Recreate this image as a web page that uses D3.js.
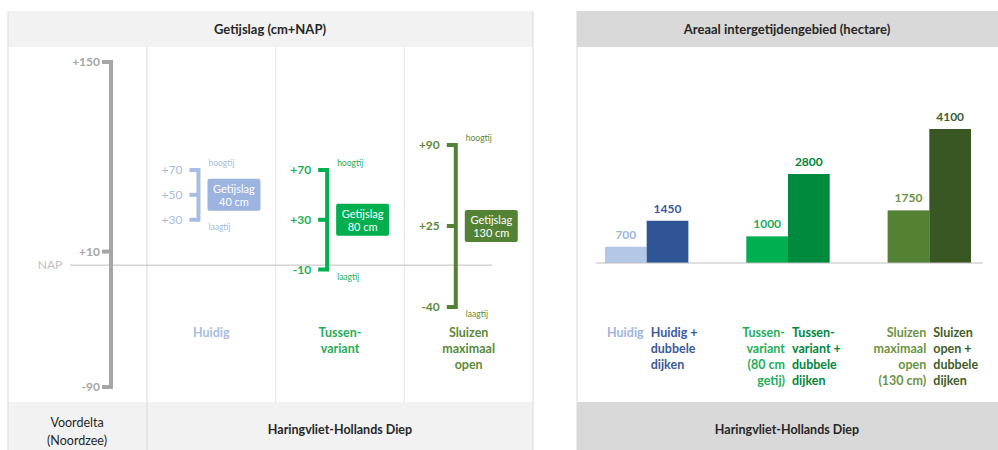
<!DOCTYPE html>
<html>
<head>
<meta charset="utf-8">
<script src="https://cdn.jsdelivr.net/npm/d3@7"></script>
<style>
  body { margin: 0; background: #fff; }
  svg { display: block; font-family: Lato, "Open Sans", sans-serif; }
</style>
</head>
<body>
<svg id="chart" width="998" height="450"></svg>
<script>
// Left panel data: tide levels (cm + NAP)
const axisTicks = [150, 10, -90];
const variants = ["Huidig", "Tussenvariant", "Sluizen maximaal open"];
const variantLines = [["Huidig"], ["Tussen-", "variant"], ["Sluizen", "maximaal", "open"]];
const highTide = [70, 70, 90];
const midTide = [50, 30, 25];
const lowTide = [30, -10, -40];
const tidalRange = [40, 80, 130];

// Right panel data: intertidal area (hectare)
const groups = ["Huidig", "Tussenvariant", "Sluizen"];
const areaBase = [700, 1000, 1750];
const areaDikes = [1450, 2800, 4100];
const baseLabels = [["Huidig"], ["Tussen-", "variant", "(80 cm", "getij)"], ["Sluizen", "maximaal", "open", "(130 cm)"]];
const dikeLabels = [["Huidig +", "dubbele", "dijken"], ["Tussen-", "variant +", "dubbele", "dijken"], ["Sluizen", "open +", "dubbele", "dijken"]];

// Colours per variant
const leftColors = ["#a9bde0", "#00b050", "#548235"];
const textColors = ["#a9bcdc", "#1fae5a", "#5b8a3a"];
const baseColors = ["#b4c7e7", "#00b050", "#548235"];
const dikeColors = ["#2f5597", "#008a3e", "#385723"];
const baseText = ["#9fb4dc", "#1fae5a", "#6b9343"];
const dikeText = ["#3a5a9a", "#00873a", "#3e5e28"];

const svg = d3.select("#chart");
const lineCol = "#d9d9d9";

// ---------- Left panel ----------
svg.append("rect").attr("x", 8).attr("y", 11).attr("width", 525).attr("height", 36).attr("fill", "#f2f2f2");
svg.append("rect").attr("x", 8).attr("y", 402).attr("width", 525).attr("height", 48).attr("fill", "#f2f2f2");
svg.append("text").attr("x", 270).attr("y", 34).attr("text-anchor", "middle")
    .attr("font-size", 13).attr("font-weight", "bold").attr("fill", "#262626").text("Getijslag (cm+NAP)");

// Panel borders
[[8, 11, 8, 450], [533, 11, 533, 450], [147, 47, 147, 450]].forEach(l => {
    svg.append("line").attr("x1", l[0]).attr("y1", l[1]).attr("x2", l[2]).attr("y2", l[3])
        .attr("stroke", lineCol).attr("stroke-width", 1);
});

const col = d3.scaleBand().domain(variants).range([147, 533]).paddingInner(0);
variants.slice(1).forEach(v => {
    svg.append("line").attr("x1", col(v)).attr("x2", col(v)).attr("y1", 47).attr("y2", 402)
        .attr("stroke", "#e3e3e3");
});

// Main scale (left axis) and a schematic scale for the brackets
const y = d3.scaleLinear().domain([150, -90]).range([62, 387]);
const yBr = d3.scaleLinear().domain([90, -40]).range([145, 307]);

// NAP line
svg.append("line").attr("x1", 70).attr("x2", 492).attr("y1", y(0)).attr("y2", y(0))
    .attr("stroke", "#bfbfbf").attr("stroke-width", 1);
svg.append("text").attr("x", 50).attr("y", y(0) + 4).attr("text-anchor", "middle")
    .attr("font-size", 12).attr("fill", "#bfbfbf").text("NAP");

// Left axis bracket
const axX = 111;
svg.append("path")
    .attr("d", `M${axX - 9},${y(150)}H${axX}V${y(-90)}H${axX - 9}`)
    .attr("fill", "none").attr("stroke", "#a6a6a6").attr("stroke-width", 4);
axisTicks.forEach(t => {
    svg.append("line").attr("x1", axX - 9).attr("x2", axX).attr("y1", y(t)).attr("y2", y(t))
        .attr("stroke", "#a6a6a6").attr("stroke-width", 4);
    svg.append("text").attr("x", axX - 11).attr("y", y(t) + 4).attr("text-anchor", "end")
        .attr("font-size", 12).attr("font-weight", "bold").attr("fill", "#a6a6a6")
        .text(t > 0 ? "+" + t : t);
});

// Variant brackets
variants.forEach((v, i) => {
    const bx = col(v) + col.bandwidth() * 0.4;
    const c = leftColors[i];
    const g = svg.append("g");
    g.append("path")
        .attr("d", `M${bx - 9},${yBr(highTide[i])}H${bx}V${yBr(lowTide[i])}H${bx - 9}`)
        .attr("fill", "none").attr("stroke", c).attr("stroke-width", 4);
    g.append("line").attr("x1", bx - 9).attr("x2", bx).attr("y1", yBr(midTide[i])).attr("y2", yBr(midTide[i]))
        .attr("stroke", c).attr("stroke-width", 4);
    [highTide[i], midTide[i], lowTide[i]].forEach(t => {
        g.append("text").attr("x", bx - 16).attr("y", yBr(t) + 4).attr("text-anchor", "end")
            .attr("font-size", 12).attr("font-weight", i === 0 ? "normal" : "bold")
            .attr("fill", i === 0 ? "#a9bcdc" : textColors[i])
            .text(t > 0 ? "+" + t : t);
    });
    g.append("text").attr("x", bx + 10).attr("y", yBr(highTide[i]) - 4)
        .attr("font-size", 8.5).attr("fill", textColors[i]).text("hoogtij");
    g.append("text").attr("x", bx + 10).attr("y", yBr(lowTide[i]) + 10)
        .attr("font-size", 8.5).attr("fill", textColors[i]).text("laagtij");
    // label box
    const my = yBr(midTide[i]);
    g.append("rect").attr("x", bx + 9).attr("y", my - 16).attr("width", 53).attr("height", 32)
        .attr("rx", 2).attr("fill", i === 0 ? "#9db3e0" : c);
    g.append("text").attr("x", bx + 35.5).attr("y", my - 2).attr("text-anchor", "middle")
        .attr("font-size", 11).attr("fill", "#fff").text("Getijslag");
    g.append("text").attr("x", bx + 35.5).attr("y", my + 11).attr("text-anchor", "middle")
        .attr("font-size", 11).attr("fill", "#fff").text(tidalRange[i] + " cm");
    // category label
    variantLines[i].forEach((ln, k) => {
        svg.append("text").attr("x", col(v) + col.bandwidth() / 2).attr("y", 337 + k * 16)
            .attr("text-anchor", "middle").attr("font-size", 12.5).attr("font-weight", "bold")
            .attr("fill", textColors[i]).text(ln);
    });
});

// Bottom labels left
svg.append("text").attr("x", 77).attr("y", 427).attr("text-anchor", "middle")
    .attr("font-size", 12.5).attr("fill", "#262626").text("Voordelta");
svg.append("text").attr("x", 77).attr("y", 445).attr("text-anchor", "middle")
    .attr("font-size", 12.5).attr("fill", "#262626").text("(Noordzee)");
svg.append("text").attr("x", 340).attr("y", 434).attr("text-anchor", "middle")
    .attr("font-size", 12.5).attr("font-weight", "bold").attr("fill", "#262626").text("Haringvliet-Hollands Diep");

// ---------- Right panel ----------
svg.append("rect").attr("x", 577).attr("y", 11).attr("width", 421).attr("height", 36).attr("fill", "#d9d9d9");
svg.append("rect").attr("x", 577).attr("y", 402).attr("width", 421).attr("height", 48).attr("fill", "#d9d9d9");
svg.append("line").attr("x1", 577).attr("x2", 577).attr("y1", 11).attr("y2", 450).attr("stroke", lineCol);
svg.append("text").attr("x", 787).attr("y", 34).attr("text-anchor", "middle")
    .attr("font-size", 13).attr("font-weight", "bold").attr("fill", "#262626").text("Areaal intergetijdengebied (hectare)");
svg.append("text").attr("x", 787).attr("y", 434).attr("text-anchor", "middle")
    .attr("font-size", 12.5).attr("font-weight", "bold").attr("fill", "#262626").text("Haringvliet-Hollands Diep");

const x0 = d3.scaleBand().domain(groups).range([605, 971]).paddingInner(0.41).paddingOuter(0);
const x1 = d3.scaleBand().domain(["base", "dikes"]).range([0, x0.bandwidth()]);
// value axis does not start at zero in the original
const yA = d3.scaleLinear().domain([230, 4100]).range([263, 129]);
const base = yA.range()[0];

groups.forEach((gName, i) => {
    const gx = x0(gName);
    const bars = [
        { key: "base", v: areaBase[i], fill: baseColors[i], tc: baseText[i] },
        { key: "dikes", v: areaDikes[i], fill: dikeColors[i], tc: dikeText[i] }
    ];
    bars.forEach(b => {
        svg.append("rect").attr("x", gx + x1(b.key)).attr("y", yA(b.v))
            .attr("width", x1.bandwidth()).attr("height", base - yA(b.v)).attr("fill", b.fill);
        svg.append("text").attr("x", gx + x1(b.key) + x1.bandwidth() / 2).attr("y", yA(b.v) - 8)
            .attr("text-anchor", "middle").attr("font-size", 12).attr("font-weight", "bold")
            .attr("fill", b.tc).text(b.v);
    });
    baseLabels[i].forEach((ln, k) => {
        svg.append("text").attr("x", gx + x1.bandwidth() - 3).attr("y", 337 + k * 16)
            .attr("text-anchor", "end").attr("font-size", 12.5).attr("font-weight", "bold")
            .attr("fill", baseText[i]).text(ln);
    });
    dikeLabels[i].forEach((ln, k) => {
        svg.append("text").attr("x", gx + x1.bandwidth() + 4).attr("y", 337 + k * 16)
            .attr("text-anchor", "start").attr("font-size", 12.5).attr("font-weight", "bold")
            .attr("fill", dikeText[i]).text(ln);
    });
});

// baseline
svg.append("line").attr("x1", 596).attr("x2", 983).attr("y1", base).attr("y2", base)
    .attr("stroke", "#bfbfbf").attr("stroke-width", 1);
</script>
</body>
</html>
